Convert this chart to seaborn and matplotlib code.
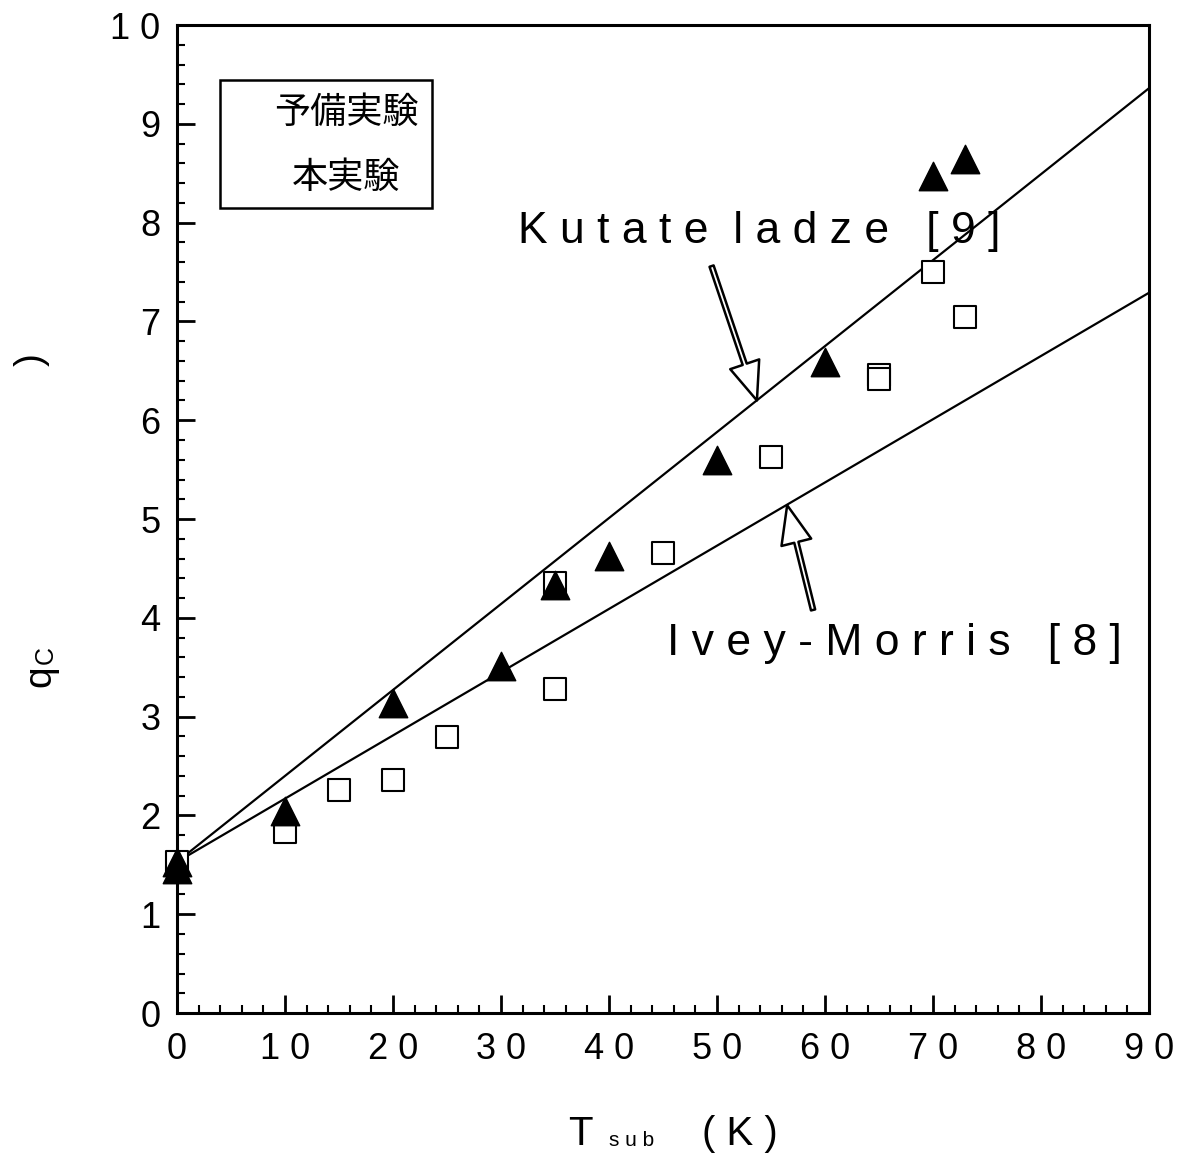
import matplotlib
matplotlib.use("Agg")
import matplotlib.pyplot as plt
import seaborn as sns
import pandas as pd
from matplotlib.patches import Rectangle

# ---- data ----
main_T = [0, 0, 10, 20, 30, 35, 40, 50, 60, 70, 73]
main_q = [1.53, 1.46, 2.04, 3.14, 3.51, 4.33, 4.63, 5.60, 6.59, 8.47, 8.64]

pre_T = [0, 10, 15, 20, 25, 35, 35, 45, 55, 65, 65, 70, 73]
pre_q = [1.53, 1.83, 2.26, 2.36, 2.79, 4.35, 3.28, 4.66, 5.63, 6.46, 6.42, 7.50, 7.04]

kut_T = [0, 90]
kut_q = [1.53, 9.36]
ivey_T = [0, 90]
ivey_q = [1.53, 7.29]

xticks = [0, 10, 20, 30, 40, 50, 60, 70, 80, 90]
xtick_labels = ["0", "1 0", "2 0", "3 0", "4 0", "5 0", "6 0", "7 0", "8 0", "9 0"]
yticks = [0, 1, 2, 3, 4, 5, 6, 7, 8, 9, 10]
ytick_labels = ["0", "1", "2", "3", "4", "5", "6", "7", "8", "9", "1 0"]

sns.set_style("ticks")
plt.rcParams['font.family'] = ['Liberation Sans', 'Noto Sans CJK JP', 'DejaVu Sans']
for k in ["text.color", "axes.labelcolor", "xtick.color", "ytick.color", "axes.edgecolor"]:
    plt.rcParams[k] = "black"

fig = plt.figure(figsize=(11.91, 11.69), dpi=100)
ax = fig.add_axes([0.1486, 0.1334, 0.8161, 0.8452])

df_k = pd.DataFrame({"T": kut_T, "q": kut_q})
df_i = pd.DataFrame({"T": ivey_T, "q": ivey_q})
sns.lineplot(data=df_k, x="T", y="q", ax=ax, color="black", lw=1.6, zorder=2)
sns.lineplot(data=df_i, x="T", y="q", ax=ax, color="black", lw=1.6, zorder=2)

df_pre = pd.DataFrame({"T": pre_T, "q": pre_q})
df_main = pd.DataFrame({"T": main_T, "q": main_q})
sns.scatterplot(data=df_pre, x="T", y="q", ax=ax, marker="s", s=250,
                facecolor="white", edgecolor="black", linewidth=1.5, zorder=3, clip_on=False)
sns.scatterplot(data=df_main, x="T", y="q", ax=ax, marker="^", s=420,
                color="black", edgecolor="black", linewidth=1, zorder=4, clip_on=False)

ax.set_xlim(0, 90)
ax.set_ylim(0, 10)
ax.set_xticks(xticks)
ax.set_xticklabels(xtick_labels)
ax.set_yticks(yticks)
ax.set_yticklabels(ytick_labels)
ax.set_xticks([i * 2 for i in range(46)], minor=True)
ax.set_yticks([i * 0.2 for i in range(51)], minor=True)
ax.tick_params(axis="both", which="major", direction="in", length=13, width=2,
               labelsize=26, pad=12, top=False, right=False)
ax.tick_params(axis="both", which="minor", direction="in", length=6, width=1.5,
               top=False, right=False)
ax.tick_params(axis="x", which="major", pad=14)
for sp in ax.spines.values():
    sp.set_visible(True)
    sp.set_linewidth(2.2)
ax.set_xlabel("")
ax.set_ylabel("")

# legend box (text only)
ax.add_patch(Rectangle((0.0442, 0.8148), 0.2181, 0.1295, transform=ax.transAxes,
                       fill=False, edgecolor="black", lw=1.8, zorder=5))
ax.text(0.249, 0.911, "予備実験", transform=ax.transAxes, ha="right", va="center",
        fontsize=26, family=['Noto Sans CJK JP', 'DejaVu Sans'])
ax.text(0.230, 0.845, "本実験", transform=ax.transAxes, ha="right", va="center",
        fontsize=26, family=['Noto Sans CJK JP', 'DejaVu Sans'])

# annotations
arrow_style = "simple,head_length=1.25,head_width=1.0,tail_width=0.14"
ax.text(31.6, 7.91, "K u t a t e  l a d z e   [ 9 ]", ha="left", va="center", fontsize=32)
ax.annotate("", xy=(53.7, 6.20), xytext=(49.5, 7.56),
            arrowprops=dict(arrowstyle=arrow_style, fc="white", ec="black", lw=1.8,
                            mutation_scale=22, shrinkA=0, shrinkB=0))
ax.text(45.4, 3.74, "I v e y - M o r r i s   [ 8 ]", ha="left", va="center", fontsize=32)
ax.annotate("", xy=(56.5, 5.14), xytext=(58.9, 4.08),
            arrowprops=dict(arrowstyle=arrow_style, fc="white", ec="black", lw=1.8,
                            mutation_scale=22, shrinkA=0, shrinkB=0))

# axis labels
fig.text(0.487, 1 - 1134 / 1169, "T", ha="center", va="center", fontsize=29)
fig.text(0.530, 1 - 1141 / 1169, "s u b", ha="center", va="center", fontsize=15)
fig.text(0.621, 1 - 1134 / 1169, "( K )", ha="center", va="center", fontsize=29)

fig.text(40 / 1191, 1 - 676 / 1169, "q", ha="center", va="center", fontsize=28, rotation=90)
fig.text(46 / 1191, 1 - 655 / 1169, "C", ha="center", va="center", fontsize=18, rotation=90)
fig.text(32 / 1191, 1 - 360 / 1169, ")", ha="center", va="center", fontsize=28, rotation=90)

fig.savefig("out.png", dpi=100)
